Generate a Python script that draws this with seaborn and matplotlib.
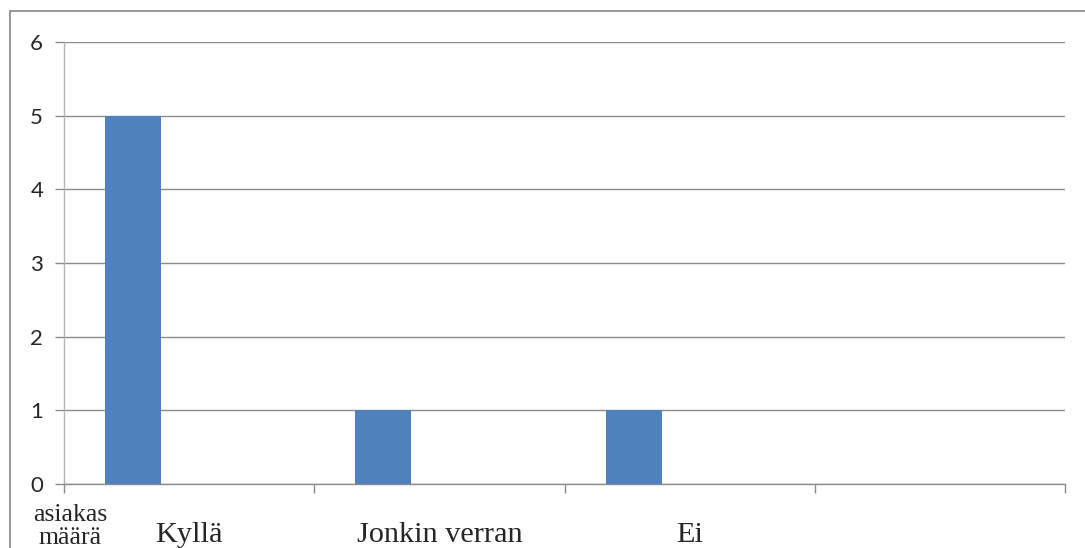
import numpy as np
import pandas as pd
import matplotlib
matplotlib.use("Agg")
import matplotlib.pyplot as plt
from matplotlib.patches import Rectangle
import seaborn as sns

# Survey answers and how many clients chose each
categories = ["Kyllä", "Jonkin verran", "Ei"]
counts = [5, 1, 1]
slot_order = ["Kyllä", "Jonkin verran", "Ei", ""]
series_names = ["asiakas määrä", "Sarja2", "Sarja3"]
y_ticks = [0, 1, 2, 3, 4, 5, 6]

df = pd.DataFrame({"vastaus": categories, "määrä": counts,
                   "sarja": [series_names[0]] * len(categories)})

sns.set_theme(style="white")
W, H = 1085, 548
fig = plt.figure(figsize=(W / 100, H / 100), dpi=100)
ax = fig.add_axes([64 / W, 1 - 484 / H, (1065 - 64) / W, (484 - 42) / H])

bar_blue = "#4F81BD"
sns.barplot(data=df, x="vastaus", y="määrä", hue="sarja", order=slot_order,
            hue_order=series_names, palette=[bar_blue] * 3, dodge=True,
            width=0.672, linewidth=0, saturation=1, legend=False, ax=ax, zorder=3)

grid_c = "#8C8C8C"
ax.set_xlim(-0.5, len(slot_order) - 0.5)
ax.set_ylim(0, 6)
ax.set_yticks(y_ticks)
ax.yaxis.grid(True, color=grid_c, linewidth=1)
ax.set_axisbelow(True)
for s in ["top", "right"]:
    ax.spines[s].set_visible(False)
ax.spines["left"].set_color("#B3B3B3")
ax.spines["bottom"].set_color(grid_c)
ax.spines["left"].set_linewidth(1)
ax.spines["bottom"].set_linewidth(1)

# Category slot boundaries carry the tick marks; labels sit at slot centres
ax.set_xticks(np.arange(-0.5, len(slot_order), 1.0))
ax.set_xticklabels([])
ax.set_xticks(np.arange(len(categories)), minor=True)
ax.set_xticklabels(categories, minor=True, family="Liberation Serif", fontsize=21.8)
ax.tick_params(axis="x", which="major", direction="out", length=6.5, width=1,
               color=grid_c, bottom=True)
ax.tick_params(axis="x", which="minor", length=0, pad=27)
ax.tick_params(axis="y", direction="out", length=6.5, width=1, color=grid_c,
               left=True, pad=8.5, labelsize=16)
for t in ax.get_yticklabels():
    t.set_family("Lato")
ax.set_xlabel("")
ax.set_ylabel("")

# Series name under the first slot
ax.text(-0.474, -0.27, "asiakas\nmäärä", transform=ax.transData,
        ha="center", va="top", family="Liberation Serif", fontsize=18.5,
        linespacing=1.05, clip_on=False)

# Chart frame
fig.add_artist(Rectangle((10 / W, -0.2), 1.2, 1.2 - 11 / H, transform=fig.transFigure,
                         fill=False, edgecolor="#868686", linewidth=1.2))

fig.savefig("out.png", dpi=100, facecolor="white")
